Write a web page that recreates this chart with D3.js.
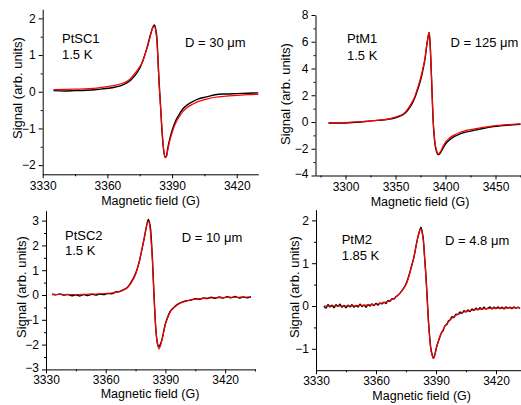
<!DOCTYPE html>
<html><head><meta charset="utf-8">
<script src="https://cdn.jsdelivr.net/npm/d3@7"></script>
<style>
body{margin:0;background:#fff;}
text{font-family:"Liberation Sans",Arial,sans-serif;fill:#000;}
</style></head>
<body><svg id="c" width="521" height="405"></svg>
<script>
// ---- Data: [magnetic field (G), signal (arb. units)] ----
const p1Black = [[3335,0.03],[3340,0.02],[3345,0.03],[3350,0.04],[3355,0.06],[3358,0.08],[3362,0.11],[3366,0.16],[3369,0.24],[3371,0.33],[3373,0.46],[3375,0.64],[3376.5,0.86],[3378,1.12],[3379,1.34],[3380,1.56],[3381,1.75],[3381.8,1.82],[3382.5,1.68],[3383,1.45],[3383.5,0.85],[3384,0.25],[3384.6,-0.32],[3385.4,-1.13],[3386.1,-1.59],[3386.9,-1.79],[3387.5,-1.72],[3388,-1.54],[3389,-1.27],[3390,-1.06],[3391,-0.89],[3392,-0.75],[3393.5,-0.60],[3395,-0.47],[3397,-0.36],[3399.5,-0.27],[3402,-0.20],[3406,-0.14],[3410,-0.08],[3415,-0.06],[3420,-0.05],[3425,-0.04],[3430,-0.03]];
const p1Red = [[3335,0.06],[3345,0.07],[3355,0.10],[3360,0.14],[3366,0.21],[3370,0.32],[3373,0.52],[3375,0.68],[3376.5,0.84],[3378,1.12],[3379,1.30],[3380,1.54],[3381,1.74],[3381.7,1.78],[3382.5,1.62],[3383,1.35],[3383.5,0.80],[3384,0.20],[3384.6,-0.35],[3385.4,-1.10],[3386.1,-1.58],[3386.9,-1.80],[3387.5,-1.76],[3388,-1.60],[3389,-1.32],[3390,-1.12],[3391,-0.95],[3392,-0.82],[3393.5,-0.67],[3395,-0.54],[3397,-0.43],[3399.5,-0.34],[3402,-0.27],[3406,-0.20],[3410,-0.15],[3415,-0.12],[3420,-0.10],[3425,-0.08],[3430,-0.07]];

const p2Black = [[3283,-0.07],[3295,-0.08],[3310,-0.02],[3320,0.04],[3328,0.10],[3337,0.15],[3344,0.22],[3350,0.32],[3355,0.45],[3358,0.56],[3362,0.85],[3366,1.29],[3369,1.75],[3371,2.16],[3374,2.85],[3376,3.40],[3378,4.10],[3379.5,4.70],[3381.5,5.85],[3383,6.5],[3383.7,6.69],[3384.5,6.0],[3385,5.3],[3386,3.3],[3386.5,2.3],[3387.5,0.3],[3388.5,-0.9],[3389.5,-1.65],[3391,-2.2],[3393,-2.44],[3395,-2.3],[3397.5,-1.96],[3400,-1.65],[3404,-1.34],[3409,-1.08],[3414,-0.90],[3420,-0.76],[3425,-0.68],[3435,-0.52],[3450,-0.33],[3462,-0.24],[3475,-0.17]];
const p2Red = [[3283,-0.05],[3295,-0.05],[3310,0.0],[3320,0.05],[3328,0.10],[3337,0.16],[3344,0.24],[3350,0.36],[3355,0.50],[3358,0.62],[3362,0.95],[3366,1.41],[3369,1.85],[3371,2.29],[3374,3.0],[3376,3.55],[3378,4.2],[3379.5,4.8],[3381.5,5.9],[3383,6.55],[3383.7,6.65],[3384.5,6.0],[3385,5.2],[3386,3.4],[3386.5,2.4],[3387.5,0.4],[3388.5,-0.8],[3389.5,-1.55],[3391,-2.1],[3393,-2.38],[3395,-2.22],[3397.5,-1.82],[3400,-1.50],[3404,-1.20],[3409,-0.96],[3414,-0.78],[3420,-0.64],[3425,-0.57],[3435,-0.44],[3450,-0.27],[3462,-0.20],[3475,-0.14]];

const p3Black = [[3333,0.03],[3335,0.01],[3337,0.04],[3339,0.0],[3341,0.02],[3343,-0.03],[3345,0.01],[3347,-0.04],[3349,0.02],[3351,-0.02],[3353,0.03],[3355,0.0],[3357,0.04],[3359,0.02],[3361,0.06],[3363,0.05],[3365,0.12],[3367,0.14],[3369,0.22],[3370.5,0.28],[3372,0.42],[3373,0.55],[3374.5,0.78],[3375.6,1.0],[3377,1.40],[3378.1,1.81],[3379,2.15],[3379.8,2.49],[3380.7,2.85],[3381.4,3.05],[3381.8,2.98],[3382.6,2.62],[3383.1,2.0],[3383.5,1.41],[3384.3,-0.07],[3385.1,-1.28],[3386,-1.95],[3386.8,-2.08],[3387.5,-1.98],[3388.2,-1.81],[3389,-1.52],[3389.8,-1.21],[3391,-0.92],[3392.3,-0.67],[3394,-0.52],[3395.7,-0.40],[3398,-0.30],[3400.7,-0.23],[3403,-0.20],[3405,-0.15],[3407.4,-0.17],[3409,-0.12],[3411,-0.14],[3413,-0.09],[3415,-0.13],[3417,-0.08],[3419,-0.12],[3421,-0.07],[3423,-0.11],[3425,-0.06],[3427,-0.12],[3429,-0.08],[3431,-0.11],[3433,-0.07]];
const p3Red = [[3333,0.02],[3340,0.02],[3350,0.03],[3358,0.05],[3363,0.08],[3367,0.14],[3369,0.2],[3371,0.3],[3373,0.52],[3374.5,0.74],[3375.6,0.98],[3377,1.38],[3378.1,1.80],[3379,2.15],[3379.8,2.48],[3380.7,2.85],[3381.5,2.97],[3382.2,2.75],[3382.8,2.2],[3383.5,1.35],[3384.3,-0.1],[3385.1,-1.3],[3386,-1.98],[3386.8,-2.17],[3387.5,-2.05],[3388.2,-1.84],[3389,-1.55],[3389.8,-1.24],[3391,-0.95],[3392.3,-0.70],[3394,-0.53],[3395.7,-0.41],[3398,-0.31],[3400.7,-0.24],[3405,-0.17],[3410,-0.13],[3415,-0.11],[3420,-0.10],[3425,-0.09],[3433,-0.08]];

const p4Black = [[3334,0.0],[3335,-0.05],[3336,0.03],[3337,-0.02],[3338,0.02],[3339,-0.04],[3340,0.03],[3341,-0.01],[3342,0.04],[3343,-0.03],[3344,0.01],[3345,-0.04],[3346,0.02],[3347,-0.02],[3348,0.03],[3349,-0.03],[3350,0.01],[3351,-0.02],[3352,0.04],[3353,-0.01],[3354,0.02],[3355,-0.03],[3356,0.03],[3357,0.0],[3358,0.05],[3359,0.01],[3360,0.06],[3361,0.02],[3362,0.07],[3363,0.05],[3364,0.09],[3365,0.06],[3366,0.13],[3367,0.11],[3368,0.17],[3369,0.16],[3370,0.22],[3371,0.25],[3372,0.30],[3373,0.36],[3374,0.43],[3375.3,0.55],[3376.5,0.72],[3377.8,0.94],[3379,1.15],[3380,1.40],[3381,1.62],[3381.8,1.76],[3382.5,1.84],[3383,1.75],[3383.7,1.54],[3384.3,1.15],[3385,0.69],[3385.6,0.2],[3386.2,-0.33],[3386.8,-0.70],[3387.3,-0.95],[3388,-1.12],[3388.7,-1.22],[3389.5,-1.12],[3390.3,-0.95],[3391,-0.85],[3392,-0.72],[3392.8,-0.62],[3393.5,-0.58],[3394.5,-0.46],[3395.5,-0.43],[3396.2,-0.35],[3397,-0.33],[3398,-0.25],[3399,-0.27],[3400,-0.19],[3401,-0.20],[3402,-0.14],[3403,-0.17],[3404,-0.11],[3405,-0.14],[3406,-0.09],[3407,-0.13],[3408,-0.07],[3409,-0.10],[3410,-0.05],[3411,-0.09],[3412,-0.04],[3413,-0.08],[3414,-0.03],[3415,-0.07],[3416,-0.05],[3417,-0.02],[3418,-0.07],[3419,-0.03],[3420,-0.06],[3421,-0.02],[3422,-0.06],[3423,-0.03],[3424,-0.07],[3425,-0.02],[3426,-0.05],[3427,-0.03],[3428,-0.06],[3429,-0.02],[3430,-0.05],[3431,-0.03],[3432,-0.06]];
const p4Red = [[3334,0.0],[3345,0.0],[3355,0.02],[3360,0.04],[3365,0.09],[3368,0.15],[3370,0.21],[3372,0.30],[3374,0.42],[3375.3,0.53],[3376.5,0.70],[3377.8,0.92],[3379,1.15],[3380,1.39],[3381,1.62],[3381.8,1.76],[3382.4,1.80],[3383,1.73],[3383.7,1.52],[3384.3,1.12],[3385,0.66],[3385.6,0.15],[3386.2,-0.36],[3386.8,-0.72],[3387.3,-0.97],[3388,-1.15],[3388.7,-1.22],[3389.5,-1.14],[3390.3,-0.97],[3391,-0.85],[3392,-0.70],[3392.8,-0.62],[3394.5,-0.47],[3396.2,-0.37],[3398,-0.28],[3400.3,-0.21],[3404,-0.14],[3407,-0.11],[3411,-0.08],[3415,-0.06],[3420,-0.05],[3432,-0.04]];

// ---- Tick labels ----
const xTicksSC = [3330,3360,3390,3420];
const xTicksM1 = [3300,3350,3400,3450];
const yTicksP1 = [-2,-1,0,1,2];
const yTicksP2 = [-4,-2,0,2,4,6,8];
const yTicksP3 = [-3,-2,-1,0,1,2,3];
const yTicksP4 = [-1,0,1,2];

// ---- Annotations ----
const sampleNames = ["PtSC1","PtM1","PtSC2","PtM2"];
const temperatures = ["1.5 K","1.5 K","1.5 K","1.85 K"];
const diameters = ["D = 30 \u03bcm","D = 125 \u03bcm","D = 10 \u03bcm","D = 4.8 \u03bcm"];

const panels = [
  {black:p1Black, red:p1Red, xd:[3330,3430], xr:[42.7,258.3], yd:[-2.25,2.25], yr:[174.3,9.2],
   xt:xTicksSC, xm:[3345,3375,3405], yt:yTicksP1, ym:[-1.5,-0.5,0.5,1.5], lpad:3,
   xtitle:[150.5,205], ytitle:[21.5,88], name:[62,43,59], dpos:[185,47]},
  {black:p2Black, red:p2Red, xd:[3270,3475], xr:[315.5,520.5], yd:[-4,8], yr:[175.5,15],
   xt:xTicksM1, xm:[3275,3325,3375,3425,3475], yt:yTicksP2, ym:[-3,-1,1,3,5,7], lpad:3,
   xtitle:[420,205.5], ytitle:[289.5,94], name:[347,43,60], dpos:[450.5,47]},
  {black:p3Black, red:p3Red, xd:[3330,3435], xr:[46,255], yd:[-3,3.4], yr:[369.4,210.7],
   xt:xTicksSC, xm:[3345,3375,3405,3435], yt:yTicksP3, ym:[-2.5,-1.5,-0.5,0.5,1.5,2.5], lpad:2.5,
   xtitle:[150,397.5], ytitle:[26,287], name:[65,240,255], dpos:[181.7,241.5]},
  {black:p4Black, red:p4Red, xd:[3330,3432.5], xr:[316,521], yd:[-1.5,2.25], yr:[370.2,209.7],
   xt:xTicksSC, xm:[3345,3375,3405], yt:yTicksP4, ym:[-0.5,0.5,1.5], lpad:2,
   xtitle:[421.7,399.5], ytitle:[299,287], name:[341.7,244,260], dpos:[445,245]}
];

const svg = d3.select("#c");

panels.forEach((c,i)=>{
  const x = d3.scaleLinear().domain(c.xd).range(c.xr);
  const y = d3.scaleLinear().domain(c.yd).range(c.yr);
  const g = svg.append("g");

  g.append("g").attr("transform",`translate(0,${c.yr[0]})`)
    .call(d3.axisBottom(x).tickValues(c.xt).tickSize(4).tickSizeOuter(0).tickPadding(c.lpad).tickFormat(d3.format("d")));
  g.append("g").attr("transform",`translate(0,${c.yr[0]})`)
    .call(d3.axisBottom(x).tickValues(c.xm).tickSize(2).tickSizeOuter(0).tickFormat(""))
    .select(".domain").remove();
  const ya = g.append("g").attr("transform",`translate(${c.xr[0]},0)`)
    .call(d3.axisLeft(y).tickValues(c.yt).tickSize(4).tickSizeOuter(0).tickPadding(3).tickFormat(d3.format("d")));
  // lowest y label nudged up slightly so it clears the x labels at the corner
  ya.selectAll(".tick text").filter(d=>d===c.yd[0]).attr("dy","0.15em");
  g.append("g").attr("transform",`translate(${c.xr[0]},0)`)
    .call(d3.axisLeft(y).tickValues(c.ym).tickSize(2).tickSizeOuter(0).tickFormat(""))
    .select(".domain").remove();
  g.selectAll(".tick text").attr("font-size",12).attr("font-family","Liberation Sans, Arial, sans-serif").attr("fill","#000");
  g.selectAll(".domain, .tick line").attr("stroke","#000").attr("stroke-width",1);

  const line = d3.line().x(d=>x(d[0])).y(d=>y(d[1])).curve(d3.curveMonotoneX);
  g.append("path").datum(c.black).attr("d",line).attr("fill","none").attr("stroke","#000").attr("stroke-width",1.4);
  g.append("path").datum(c.red).attr("d",line).attr("fill","none").attr("stroke","#ff0000").attr("stroke-width",1.2);

  g.append("text").attr("x",c.xtitle[0]).attr("y",c.xtitle[1]).attr("text-anchor","middle").attr("font-size",12.5).text("Magnetic field (G)");
  g.append("text").attr("transform",`translate(${c.ytitle[0]},${c.ytitle[1]}) rotate(-90)`).attr("text-anchor","middle").attr("font-size",13).text("Signal (arb. units)");
  g.append("text").attr("x",c.name[0]).attr("y",c.name[1]).attr("font-size",13).text(sampleNames[i]);
  g.append("text").attr("x",c.name[0]).attr("y",c.name[2]).attr("font-size",13).text(temperatures[i]);
  g.append("text").attr("x",c.dpos[0]).attr("y",c.dpos[1]).attr("font-size",13).text(diameters[i]);
});
</script>
</body></html>
